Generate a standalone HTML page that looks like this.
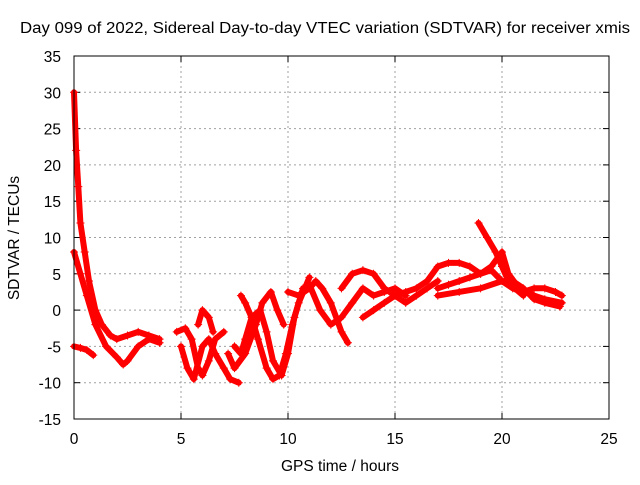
<!DOCTYPE html>
<html><head><meta charset="utf-8"><style>
body{margin:0;background:#fff;}
svg text{font-family:"Liberation Sans",sans-serif;font-size:15.5px;fill:#000;}
</style></head><body>
<svg id="chart" width="640" height="480" viewBox="0 0 640 480" xmlns="http://www.w3.org/2000/svg">
<rect width="640" height="480" fill="#fff"/>
<text x="325" y="33" text-anchor="middle" textLength="610" lengthAdjust="spacingAndGlyphs">Day 099 of 2022, Sidereal Day-to-day VTEC variation (SDTVAR) for receiver xmis</text>
<text x="340" y="471" text-anchor="middle">GPS time / hours</text>
<text transform="translate(19,238) rotate(-90)" text-anchor="middle">SDTVAR / TECUs</text>
<g id="grid"></g>
<g id="ticks"></g>
<g id="series"></g>
<rect x="74" y="56" width="535" height="363" fill="none" stroke="#000" stroke-width="1"/>
</svg>
<script>
const xTicks=[0,5,10,15,20,25];
const yTicks=[-15,-10,-5,0,5,10,15,20,25,30,35];
const track1=[[0,30],[0.1,22],[0.2,17],[0.3,12],[0.5,8],[0.7,4],[1,0],[1.3,-2],[1.7,-3.5],[2,-4],[2.5,-3.5],[3,-3],[3.5,-3.5],[4,-4]];
const track2=[[0,8],[0.3,5],[0.6,2],[1,-2],[1.5,-5],[2,-6.5],[2.3,-7.5],[2.5,-7],[3,-5],[3.5,-4],[4,-4.5]];
const track3=[[0,-5],[0.3,-5.2],[0.6,-5.5],[0.9,-6.2]];
const track4=[[4.8,-3],[5.2,-2.5],[5.5,-4],[5.8,-8],[6,-9],[6.3,-7],[6.6,-4],[7,-3]];
const track5=[[5,-5],[5.3,-8],[5.6,-9.5],[6,-5],[6.3,-4],[6.6,-6],[7,-8],[7.3,-9.5],[7.7,-10]];
const track6=[[5.8,-2],[6,0],[6.3,-1],[6.5,-3]];
const track7=[[7.5,-5],[7.8,-6],[8,-4],[8.3,-1],[8.7,0],[9,-3],[9.3,-7],[9.7,-9],[10,-6],[10.3,-1],[10.7,3]];
const track8=[[7.8,2],[8,1],[8.3,-1],[8.6,-4],[9,-8],[9.3,-9.5],[9.6,-9],[9.9,-6],[10.2,-2],[10.5,1],[11,4.5]];
const track9=[[7.2,-6],[7.5,-8],[8,-6],[8.5,-2],[8.8,1],[9.2,2.5],[9.5,0],[9.8,-2]];
const track10=[[10,2.5],[10.5,2],[11,3],[11.3,4],[11.6,3],[12,1],[12.5,-3],[12.8,-4.5]];
const track11=[[11,3.5],[11.5,0],[12,-2],[12.5,-1],[13,1],[13.5,3],[14,2],[14.5,2.5],[15,3],[15.5,2]];
const track12=[[12.5,3],[13,5],[13.5,5.5],[14,5],[14.5,3],[15,2],[15.5,2.5],[16,3],[16.5,4]];
const track13=[[13.5,-1],[14,0],[14.5,1],[15,2],[15.5,1],[16,2],[16.5,3],[17,4]];
const track14=[[16.5,4],[17,6],[17.5,6.5],[18,6.5],[18.5,6],[19,5],[19.5,6],[20,8],[20.3,5],[20.8,3],[21.5,2],[22,1.5],[22.8,1]];
const track15=[[17,3],[17.5,3.5],[18,4],[18.5,4.5],[19,5],[19.5,5.5],[20,4],[20.5,3],[21,2.5],[21.5,3],[22,3],[22.5,2.5],[22.8,2]];
const track16=[[18.9,12],[19.3,10],[19.7,8],[20,6],[20.3,4],[20.6,3],[21,2]];
const track17=[[17,2],[18,2.5],[19,3],[20,4],[20.5,4],[21,3],[21.5,1.5],[22,1],[22.7,0.5]];
const tracks=[track1,track2,track3,track4,track5,track6,track7,track8,track9,track10,track11,track12,track13,track14,track15,track16,track17];
const NS="http://www.w3.org/2000/svg";
const X0=74,X1=609,Y0=419,Y1=56;
function sx(v){return X0+(v-0)/(25-0)*(X1-X0);}
function sy(v){return Y0-(v+15)/(50)*(Y0-Y1);}
const grid=document.getElementById('grid'),ticks=document.getElementById('ticks'),ser=document.getElementById('series');
function mk(tag,attrs,parent){const e=document.createElementNS(NS,tag);for(const k in attrs)e.setAttribute(k,attrs[k]);parent.appendChild(e);return e;}
xTicks.forEach(t=>{const x=sx(t);
 if(t>0&&t<25){const g=mk('line',{x1:x,x2:x,y1:Y1,y2:Y0,stroke:'#a0a0a0','stroke-dasharray':'2,3'},grid);
 
 }
 const l=mk('line',{x1:x,x2:x,y1:Y0,y2:Y0-6,stroke:'#000'},ticks);
 
 
 const l2=mk('line',{x1:x,x2:x,y1:Y1,y2:Y1+6,stroke:'#000'},ticks);
 
 
 const tx=mk('text',{x:x,y:Y0+25,'text-anchor':'middle'},ticks);tx.textContent=t;
 
 
});
yTicks.forEach(t=>{const y=sy(t);
 if(t>-15&&t<35){const g=mk('line',{x1:X0,x2:X1,y1:y,y2:y,stroke:'#a0a0a0','stroke-dasharray':'2,3'},grid);
 
 }
 const l=mk('line',{x1:X0,x2:X0+6,y1:y,y2:y,stroke:'#000'},ticks);
 
 
 const l2=mk('line',{x1:X1,x2:X1-6,y1:y,y2:y,stroke:'#000'},ticks);
 
 
 const tx=mk('text',{x:X0-13,y:y+6,'text-anchor':'end'},ticks);tx.textContent=t;
 
 
});
tracks.forEach((tr,i)=>{
 const pts=tr.map(p=>sx(p[0]).toFixed(1)+','+sy(p[1]).toFixed(1)).join(' ');
 const pl=mk('polyline',{points:pts,fill:'none',stroke:'#ff0000','stroke-width':6,'stroke-linejoin':'round','stroke-linecap':'round'},ser);
 
 
 tr.forEach(p=>{const x=sx(p[0]),y=sy(p[1]);
  const m=mk('path',{d:`M${x-4},${y}H${x+4}M${x},${y-4}V${y+4}`,stroke:'#ff0000','stroke-width':1},ser);
  
  
 });
});
</script>
</body></html>
